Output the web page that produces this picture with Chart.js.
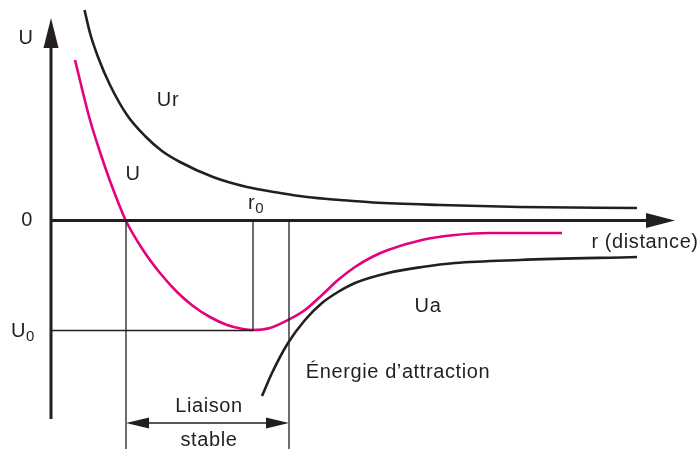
<!DOCTYPE html>
<html>
<head>
<meta charset="utf-8">
<script src="https://cdn.jsdelivr.net/npm/chart.js@4/dist/chart.umd.min.js"></script>
<style>
    html, body { margin: 0; padding: 0; background: #fff; }
    #wrap { position: relative; width: 700px; height: 449px; }
</style>
</head>
<body>
<div id="wrap"><canvas id="chart"></canvas></div>
<script>
/// Distance r (arbitrary units, origin at the U axis) and repulsion energy Ur.
const UR_R = [3.35, 3.9, 4.7, 5.9, 7.6, 9.4, 11.1, 12.9, 16.2, 19.6, 22.9, 25.6, 28.9, 32.2, 38.9, 46.9, 58.6];
const UR_U = [21.05, 18.75, 16.35, 13.55, 10.55, 8.45, 6.95, 5.85, 4.35, 3.35, 2.75, 2.35, 2.05, 1.8, 1.55, 1.35, 1.25];

/// Total energy U.
const U_R = [2.4, 3.9, 4.9, 5.9, 6.9, 7.5, 9.2, 10.9, 12.6, 14.2, 15.9, 17.6, 19.2, 20.2, 21.9, 23.7, 25.4, 27.1, 28.7, 30.4, 32.1, 33.7, 37.1, 40.4, 43.9, 51.1];
const U_U = [16.05, 10.05, 6.85, 3.95, 1.35, -0.05, -2.95, -5.25, -7.15, -8.55, -9.65, -10.45, -10.85, -10.95, -10.75, -9.95, -8.95, -7.45, -5.95, -4.65, -3.65, -2.95, -1.95, -1.45, -1.25, -1.25];

/// Attraction energy Ua.
const UA_R = [21.1, 22.1, 23.7, 25.4, 27.1, 28.7, 30.4, 33.7, 37.1, 40.4, 46.9, 58.6];
const UA_U = [-17.55, -15.25, -12.25, -9.95, -8.25, -7.15, -6.25, -5.25, -4.65, -4.25, -3.95, -3.65];

/// Marked distances: zero crossing of U, equilibrium r0, end of stable bond.
const R_ZERO = 7.5;
const R0 = 20.2;
const R_STABLE_END = 23.8;
/// Well depth U0.
const U0 = -11.0;

/// Axis extents.
const R_AXIS_END = 62.4;
const U_AXIS_TOP = 20.25;
const U_AXIS_BOTTOM = -19.85;
const STABLE_ARROW_U = -20.25;

const INK = "#231f20";
const PINK = "#e5007e";
const FONT = "20px 'Liberation Sans', Arial, Helvetica, sans-serif";
const FONT_SUB = "15px 'Liberation Sans', Arial, Helvetica, sans-serif";

const pts = (xs, ys) => xs.map((x, i) => ({ x: x, y: ys[i] }));

function curve(data, color, width) {
    return {
        data: data,
        showLine: true,
        borderColor: color,
        borderWidth: width,
        pointRadius: 0,
        cubicInterpolationMode: 'monotone',
        fill: false,
    };
}

function segment(x1, y1, x2, y2, width) {
    return {
        data: [{ x: x1, y: y1 }, { x: x2, y: y2 }],
        showLine: true,
        borderColor: INK,
        borderWidth: width,
        pointRadius: 0,
        tension: 0,
        borderCapStyle: 'butt',
    };
}

// Labels placed in data units.
const LABELS = [
    { text: "U", r: -2.5, u: 18.25 },
    { text: "Ur", r: 11.7, u: 12.0 },
    { text: "U", r: 8.2, u: 4.6 },
    { text: "0", r: -2.4, u: 0.0 },
    { text: "r", sub: "0", r: 20.5, u: 1.7 },
    { text: "r (distance)", r: 59.4, u: -2.2 },
    { text: "Ua", r: 37.7, u: -8.6 },
    { text: "U", sub: "0", r: -2.8, u: -11.1 },
    { text: "Énergie d’attraction", r: 34.7, u: -15.2 },
    { text: "Liaison", r: 15.8, u: -18.6 },
    { text: "stable", r: 15.8, u: -22.0 },
];

function triangle(ctx, tip, dir, len, half) {
    // dir: unit vector pointing toward the tip
    const bx = tip.x - dir.x * len, by = tip.y - dir.y * len;
    ctx.beginPath();
    ctx.moveTo(tip.x, tip.y);
    ctx.lineTo(bx - dir.y * half, by + dir.x * half);
    ctx.lineTo(bx + dir.y * half, by - dir.x * half);
    ctx.closePath();
    ctx.fill();
}

const decorations = {
    id: 'decorations',
    afterDatasetsDraw(chart) {
        const ctx = chart.ctx;
        const xs = chart.scales.x, ys = chart.scales.y;
        const P = (r, u) => ({ x: xs.getPixelForValue(r), y: ys.getPixelForValue(u) });
        ctx.save();
        ctx.fillStyle = INK;

        // axis arrowheads
        triangle(ctx, P(R_AXIS_END, 0), { x: 1, y: 0 }, 29, 7.5);
        triangle(ctx, P(0, U_AXIS_TOP), { x: 0, y: -1 }, 30, 7.5);

        // stable bond arrowheads
        triangle(ctx, P(R_ZERO, STABLE_ARROW_U), { x: -1, y: 0 }, 23, 5.5);
        triangle(ctx, P(R_STABLE_END, STABLE_ARROW_U), { x: 1, y: 0 }, 23, 5.5);

        // labels
        ctx.textBaseline = 'middle';
        ctx.letterSpacing = '0.6px';
        for (const l of LABELS) {
            const p = P(l.r, l.u);
            ctx.font = FONT;
            if (l.sub) {
                const w1 = ctx.measureText(l.text).width;
                ctx.font = FONT_SUB;
                const w2 = ctx.measureText(l.sub).width;
                const x0 = p.x - (w1 + w2) / 2;
                ctx.font = FONT;
                ctx.textAlign = 'left';
                ctx.fillText(l.text, x0, p.y);
                ctx.font = FONT_SUB;
                ctx.fillText(l.sub, x0 + w1, p.y + 5);
            } else {
                ctx.textAlign = 'center';
                ctx.fillText(l.text, p.x, p.y);
            }
        }
        ctx.restore();
    }
};

new Chart(document.getElementById("chart"), {
    type: 'scatter',
    data: {
        datasets: [
            // guide lines
            segment(R_ZERO, 0, R_ZERO, -23, 1.3),
            segment(R0, 0, R0, U0, 1.3),
            segment(R_STABLE_END, 0, R_STABLE_END, -23, 1.3),
            segment(0, U0, R0, U0, 1.3),
            segment(R_ZERO + 1.5, STABLE_ARROW_U, R_STABLE_END - 1.5, STABLE_ARROW_U, 1.5),
            // axes
            segment(0, U_AXIS_BOTTOM, 0, U_AXIS_TOP - 2.5, 3),
            segment(0, 0, R_AXIS_END - 2.5, 0, 3),
            // curves
            curve(pts(UR_R, UR_U), INK, 2.6),
            curve(pts(UA_R, UA_U), INK, 2.6),
            curve(pts(U_R, U_U), PINK, 2.6),
        ]
    },
    options: {
        responsive: true,
        maintainAspectRatio: false,
        animation: false,
        layout: { padding: 0 },
        plugins: {
            legend: { display: false },
            tooltip: { enabled: false },
        },
        scales: {
            x: { type: 'linear', display: false, min: -5.1, max: 64.9 },
            y: { type: 'linear', display: false, min: -22.85, max: 22.05 },
        },
    },
    plugins: [decorations],
});
</script>
</body>
</html>
